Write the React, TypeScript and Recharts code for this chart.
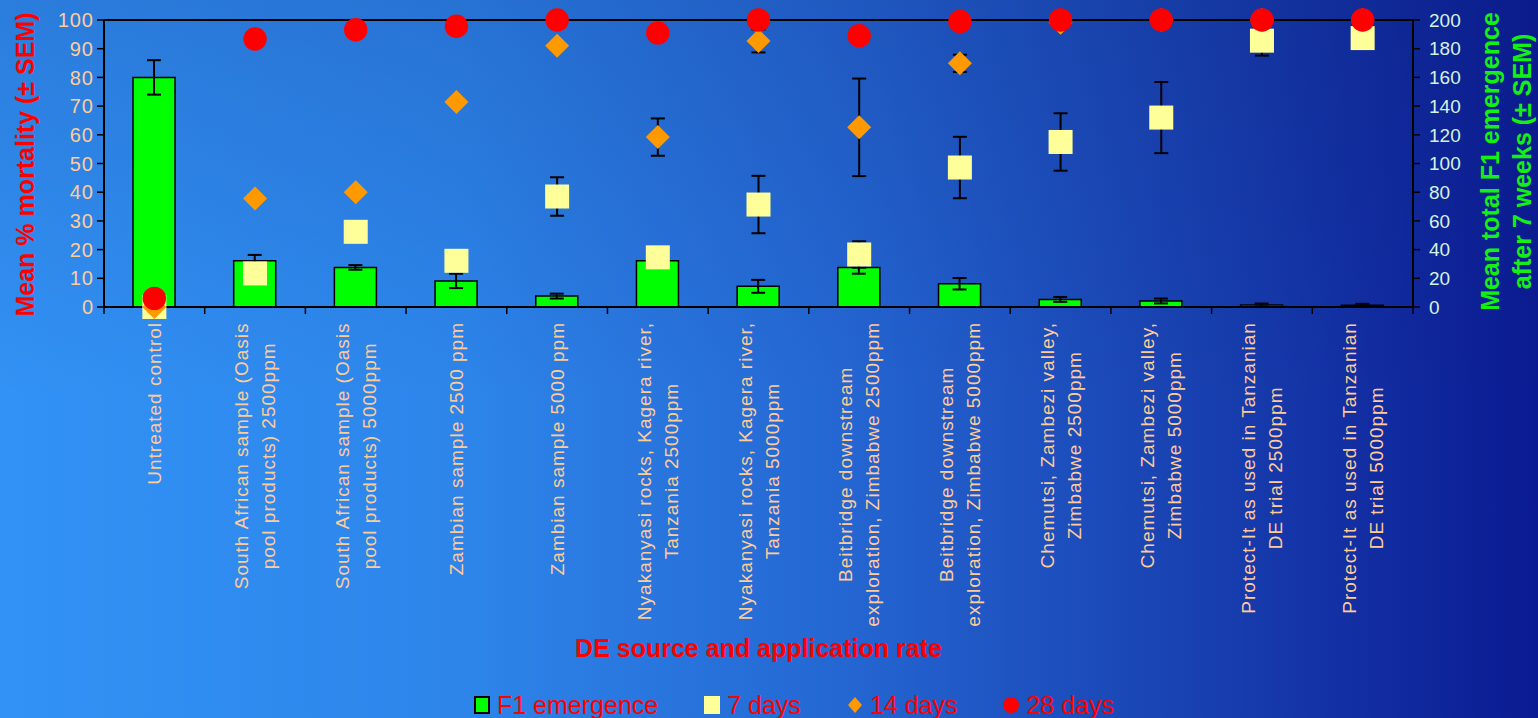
import React from "react";
import {
  ComposedChart,
  Bar,
  Scatter,
  XAxis,
  YAxis,
  ErrorBar,
  ReferenceLine,
} from "recharts";

const sources = [
  "Untreated control",
  "South African sample (Oasis\npool products) 2500ppm",
  "South African sample (Oasis\npool products) 5000ppm",
  "Zambian sample 2500 ppm",
  "Zambian sample 5000 ppm",
  "Nyakanyasi rocks, Kagera river,\nTanzania 2500ppm",
  "Nyakanyasi rocks, Kagera river,\nTanzania 5000ppm",
  "Beitbridge downstream\nexploration, Zimbabwe 2500ppm",
  "Beitbridge downstream\nexploration, Zimbabwe 5000ppm",
  "Chemutsi, Zambezi valley,\nZimbabwe 2500ppm",
  "Chemutsi, Zambezi valley,\nZimbabwe 5000ppm",
  "Protect-It as used in Tanzanian\nDE trial 2500ppm",
  "Protect-It as used in Tanzanian\nDE trial 5000ppm",
];

// total F1 emergence after 7 weeks (right axis) and SEM
const f1Emergence = [160, 32.3, 27.6, 18.2, 7.6, 32.3, 14.4, 27.6, 16.2, 5.3, 4.2, 1.4, 1.2];
const f1Sem = [12, 4, 1.6, 5, 1.7, null, 4.5, 4.4, 4, 1.7, 1.7, 1, 1];

// mean % mortality (left axis) and SEM
const mortality7d = [0, 11.7, 26.2, 16.1, 38.5, 17.3, 35.7, 18.3, 48.6, 57.5, 66, 92.8, 93.7];
const sem7d = [null, null, null, null, 6.7, null, 10, 4.6, 10.7, 10, 12.4, 5.2, null];
const mortality14d = [0, 37.8, 40, 71.4, 91, 59.2, 92.7, 62.6, 84.9, 99, 100, 100, 100];
const sem14d = [null, null, null, null, null, 6.5, 4, 17, 3, null, null, null, null];
const mortality28d = [3, 93.4, 96.6, 97.8, 100, 95.5, 100, 94.5, 99.5, 100, 100, 100, 100];

const mortalityTicks = [0, 10, 20, 30, 40, 50, 60, 70, 80, 90, 100];
const emergenceTicks = [0, 20, 40, 60, 80, 100, 120, 140, 160, 180, 200];

const data = sources.map((name, i) => ({
  name,
  f1: f1Emergence[i],
  f1Err: f1Sem[i],
  d7: mortality7d[i],
  d7Err: sem7d[i],
  d14: mortality14d[i],
  d14Err: sem14d[i],
  d28: mortality28d[i],
}));

const W = 1538;
const H = 718;
const LEFT_W = 104;
const RIGHT_W = 125;
const HALF_BAND = (W - LEFT_W - RIGHT_W) / sources.length / 2;

const FONT = "'Liberation Sans', Arial, sans-serif";
const TICK_SIZE = 19;
const TICK_SPACING = 1;
const TITLE_SIZE = 25;

let ctx: CanvasRenderingContext2D | null = null;
const measure = (s: string) => {
  if (!ctx) ctx = document.createElement("canvas").getContext("2d");
  if (!ctx) return s.length * TICK_SIZE * 0.5;
  ctx.font = `${TICK_SIZE}px 'Liberation Sans', Arial`;
  return ctx.measureText(s).width + s.length * TICK_SPACING;
};

const SourceTick = (props: any) => {
  const { x, y, payload, index } = props;
  const lines = String(payload.value).split("\n");
  const longest = Math.max(...lines.map(measure));
  const mid = y + 15 + longest / 2;
  return (
    <g>
      <line x1={x - HALF_BAND} y1={y} x2={x - HALF_BAND} y2={y + 7} stroke="#000" strokeWidth={1.5} />
      {index === sources.length - 1 && (
        <line x1={x + HALF_BAND} y1={y} x2={x + HALF_BAND} y2={y + 7} stroke="#000" strokeWidth={1.5} />
      )}
      {lines.map((line, i) => (
        <text
          key={i}
          transform={`translate(${x + (i - (lines.length - 1) / 2) * 27}, ${mid}) rotate(-90)`}
          textAnchor="middle"
          dominantBaseline="central"
          fill="#ffcc99"
          fontSize={TICK_SIZE}
          letterSpacing={TICK_SPACING}
          fontFamily={FONT}
        >
          {line}
        </text>
      ))}
    </g>
  );
};

const XTitle = (props: any) => {
  const vb = props.viewBox || { x: LEFT_W, width: W - LEFT_W - RIGHT_W };
  return (
    <text x={vb.x + vb.width / 2} y={648} textAnchor="middle" dominantBaseline="central"
      fill="#ff0000" fontSize={TITLE_SIZE} fontWeight="bold" fontFamily={FONT}>
      DE source and application rate
    </text>
  );
};

const LeftTitle = (props: any) => {
  const vb = props.viewBox || { y: 20, height: 287 };
  return (
    <text transform={`translate(25, ${vb.y + vb.height / 2 + 1}) rotate(-90)`} textAnchor="middle"
      dominantBaseline="central" fill="#ff0000" fontSize={TITLE_SIZE} fontWeight="bold" fontFamily={FONT}>
      Mean % mortality (± SEM)
    </text>
  );
};

const RightTitle = (props: any) => {
  const vb = props.viewBox || { x: W - RIGHT_W, y: 20, height: 287 };
  const cy = vb.y + vb.height / 2 - 2;
  const common = {
    textAnchor: "middle" as const,
    dominantBaseline: "central" as const,
    fill: "#14f014",
    fontSize: TITLE_SIZE,
    fontWeight: "bold",
    fontFamily: FONT,
  };
  return (
    <g>
      <text transform={`translate(${vb.x + 77}, ${cy}) rotate(-90)`} {...common}>
        Mean total F1 emergence
      </text>
      <text transform={`translate(${vb.x + 109}, ${cy}) rotate(-90)`} {...common}>
        after 7 weeks (± SEM)
      </text>
    </g>
  );
};

const SquareMark = (p: any) => (
  <rect x={p.cx - 12} y={p.cy - 12} width={24} height={24} fill="#ffff99" />
);
const DiamondMark = (p: any) => (
  <polygon
    points={`${p.cx},${p.cy - 12} ${p.cx + 12},${p.cy} ${p.cx},${p.cy + 12} ${p.cx - 12},${p.cy}`}
    fill="#ff9900"
  />
);
const CircleMark = (p: any) => <circle cx={p.cx} cy={p.cy} r={11.7} fill="#ff0000" />;

const legendItems = [
  { label: "F1 emergence", icon: <rect x={1} y={1} width={14} height={16} fill="#00ff00" stroke="#000" strokeWidth={2} /> },
  { label: "7 days", icon: <rect x={0} y={0} width={16} height={18} fill="#ffff99" /> },
  { label: "14 days", icon: <polygon points="8,1 15,9 8,17 1,9" fill="#ff9900" /> },
  { label: "28 days", icon: <circle cx={8} cy={9} r={8} fill="#ff0000" /> },
];

export default function App() {
  return (
    <div
      style={{
        position: "fixed",
        left: 0,
        top: 0,
        width: W,
        height: H,
        overflow: "hidden",
        background:
          "linear-gradient(180deg, rgba(10,30,110,0.18) 0%, rgba(10,30,110,0) 55%), linear-gradient(90deg, #3292f5 0%, #2d85ea 30%, #2466d2 55%, #1840b0 78%, #0b1a92 100%)",
      }}
    >
      <ComposedChart width={W} height={H} data={data} margin={{ top: 20, right: 0, bottom: 0, left: 0 }}>
        <XAxis
          dataKey="name"
          interval={0}
          height={H - 20 - 287}
          tickLine={false}
          tickSize={0}
          tickMargin={0}
          axisLine={{ stroke: "#000", strokeWidth: 2 }}
          tick={<SourceTick />}
          label={<XTitle />}
        />
        <YAxis
          yAxisId="left"
          width={LEFT_W}
          domain={[0, 100]}
          ticks={mortalityTicks}
          interval={0}
          tickSize={7}
          tickMargin={3}
          axisLine={{ stroke: "#000", strokeWidth: 2 }}
          tickLine={{ stroke: "#000", strokeWidth: 1.5 }}
          tick={{ fill: "#ffcc99", fontSize: 20, letterSpacing: 1, fontFamily: FONT }}
          label={<LeftTitle />}
        />
        <YAxis
          yAxisId="right"
          orientation="right"
          width={RIGHT_W}
          domain={[0, 200]}
          ticks={emergenceTicks}
          interval={0}
          tickSize={7}
          tickMargin={9}
          axisLine={{ stroke: "#000", strokeWidth: 2 }}
          tickLine={{ stroke: "#000", strokeWidth: 1.5 }}
          tick={{ fill: "#d4f2e2", fontSize: 19, fontFamily: FONT }}
          label={<RightTitle />}
        />
        <ReferenceLine yAxisId="left" y={100} stroke="#000" strokeWidth={2} />
        <Bar
          yAxisId="right"
          dataKey="f1"
          name="F1 emergence"
          fill="#00ff00"
          stroke="#000"
          strokeWidth={1.5}
          barSize={42}
          isAnimationActive={false}
        >
          <ErrorBar dataKey="f1Err" width={7} stroke="#000" strokeWidth={2} />
        </Bar>
        <Scatter yAxisId="left" dataKey="d7" name="7 days" shape={SquareMark} isAnimationActive={false}>
          <ErrorBar dataKey="d7Err" direction="y" width={7} stroke="#000" strokeWidth={2} />
        </Scatter>
        <Scatter yAxisId="left" dataKey="d14" name="14 days" shape={DiamondMark} isAnimationActive={false}>
          <ErrorBar dataKey="d14Err" direction="y" width={7} stroke="#000" strokeWidth={2} />
        </Scatter>
        <Scatter yAxisId="left" dataKey="d28" name="28 days" shape={CircleMark} isAnimationActive={false} />
      </ComposedChart>
      <div
        style={{
          position: "absolute",
          left: 474,
          top: 690,
          display: "flex",
          gap: 46,
          fontFamily: FONT,
          fontSize: 25,
          lineHeight: "30px",
          color: "#ff0000",
        }}
      >
        {legendItems.map((item) => (
          <div key={item.label} style={{ display: "flex", alignItems: "center", gap: 7 }}>
            <svg width={16} height={18}>{item.icon}</svg>
            <span>{item.label}</span>
          </div>
        ))}
      </div>
    </div>
  );
}
